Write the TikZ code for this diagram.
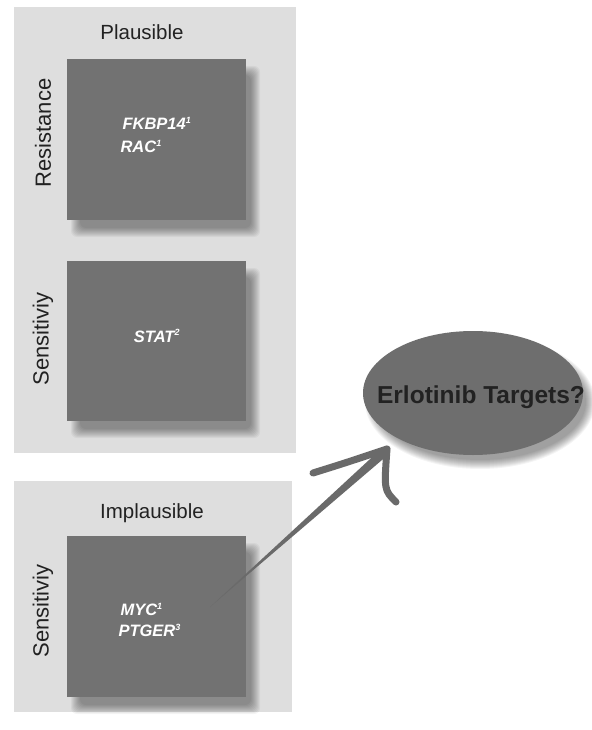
\documentclass[tikz,border=0pt]{standalone}
\usepackage{fontspec}
\setmainfont{Liberation Sans}
\usetikzlibrary{shapes.geometric,calc}
\definecolor{panelgray}{HTML}{DEDEDE}
\definecolor{boxgray}{HTML}{727272}
\definecolor{ellgray}{HTML}{6E6E6E}
\definecolor{arrowgray}{HTML}{6A6A6A}
\definecolor{textdark}{HTML}{222222}
\tikzset{
  panel/.style={fill=panelgray, draw=none},
  genebox/.style={fill=boxgray, draw=none},
  shadowlayer/.style={fill=black, fill opacity=0.045, draw=none},
  paneltitle/.style={font=\fontsize{20.5}{22}\selectfont, text=textdark},
  sidelabel/.style={font=\fontsize{22}{24}\selectfont, text=textdark, rotate=90},
  genetext/.style={font=\fontsize{16.5}{21}\selectfont\bfseries\itshape, text=white, align=left},
  arrowstroke/.style={draw=arrowgray, line width=7pt, line cap=round, line join=round}
}
\newcommand{\supnum}[1]{\textsuperscript{\fontsize{9}{9}\selectfont #1}}
% soft shadow of a rectangle: x1 y1 x2 y2
\newcommand{\softrect}[4]{%
  \foreach \k in {0,...,9}{%
    \fill[shadowlayer, rounded corners=6pt]
      ({#1+9+\k-5},{#2+12+\k-5}) rectangle ({#3+9-\k+5},{#4+12-\k+5});
  }%
}
\begin{document}
\begin{tikzpicture}[x=1pt,y=-1pt]
\useasboundingbox (0,0) rectangle (591,730);
\fill[white] (0,0) rectangle (591,730);
% panels
\path[panel] (14,7) rectangle (296,453);
\path[panel] (14,481) rectangle (292,712);
% titles
\node[paneltitle] (tplaus) at (142,32) {Plausible};
\node[paneltitle] (timplaus) at (152,513) {Implausible};
% side labels
\node[sidelabel] (lres) at (43,133) {Resistance};
\node[sidelabel] (lsens1) at (43,339) {Sensitiviy};
\node[sidelabel] (lsens2) at (43,611) {Sensitiviy};
% shadows
\softrect{67}{59}{246}{220}
\softrect{67}{261}{246}{421}
\softrect{67}{536}{246}{697}
\foreach \k in {0,...,9}{%
  \fill[shadowlayer] (480,402) ellipse [x radius=115-\k, y radius=67-\k];
}
% boxes
\path[genebox] (67,59) rectangle (246,220);
\path[genebox] (67,261) rectangle (246,421);
\path[genebox] (67,536) rectangle (246,697);
\node[genetext, anchor=west] (g1) at (117,135) {\hspace*{2pt}FKBP14\supnum{1}\\[2pt]RAC\supnum{1}};
\node[genetext] (g2) at (157,336) {STAT\supnum{2}};
\node[genetext, anchor=west] (g3) at (115,620) {\hspace*{2pt}MYC\supnum{1}\\PTGER\supnum{3}};
% ellipse
\node[ellipse, fill=ellgray, minimum width=220pt, minimum height=124pt, inner sep=0pt] (ell) at (473,393) {};
\node[font=\fontsize{24.5}{26}\selectfont\bfseries, text=textdark] (elltext) at (481,397) {Erlotinib Targets?};
% arrow
\coordinate (astart) at (210,607);
\coordinate (atip) at (387,449);
\coordinate (barbl) at (313,473);
\coordinate (barbr) at (396,502);
\fill[arrowgray] (astart) -- ($(atip)+(-5,-1)$) -- ($(atip)+(2,5)$) -- cycle;
\draw[arrowstroke] (barbl) .. controls (345,463) .. (atip);
\draw[arrowstroke] (atip) .. controls (384,490) .. (barbr);
\end{tikzpicture}
\end{document}
